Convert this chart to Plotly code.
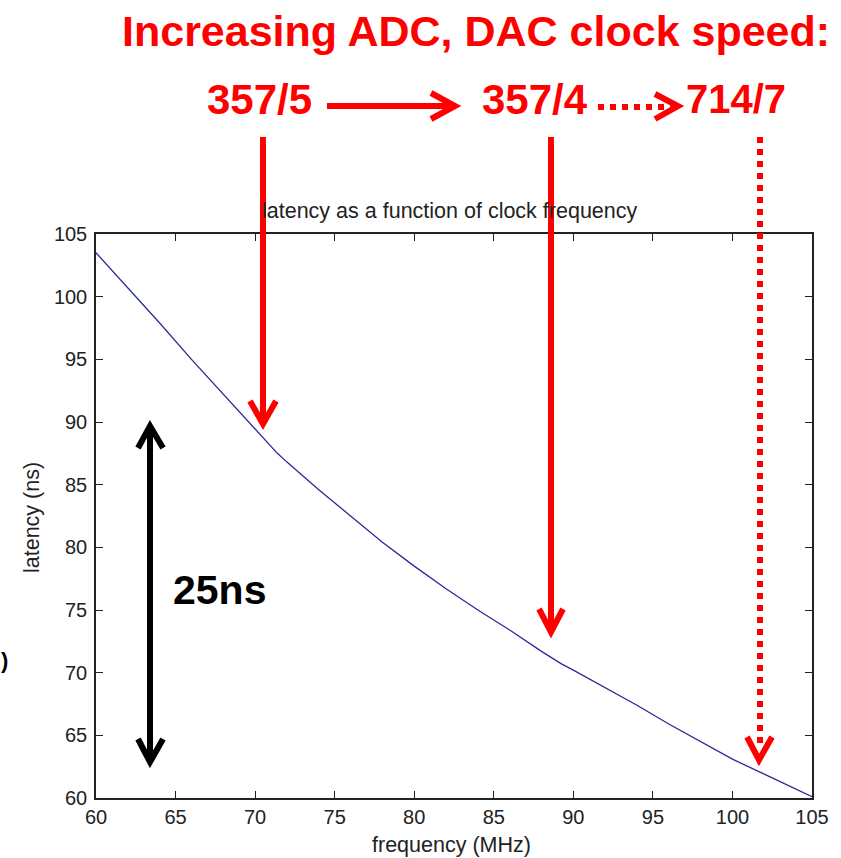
import plotly.graph_objects as go

# ---- data ----
freq_mhz = [60, 62, 64, 66, 68, 70, 71.4, 72, 74, 76, 78, 80, 82, 84, 86, 88,
            89.25, 90, 92, 94, 96, 98, 100, 102, 104, 105]
latency_ns = [103.5, 100.7, 97.9, 95.0, 92.2, 89.4, 87.5, 86.8, 84.6, 82.5, 80.4,
              78.5, 76.7, 75.0, 73.4, 71.7, 70.7, 70.2, 68.8, 67.4, 65.9, 64.5,
              63.1, 61.9, 60.7, 60.1]
x_ticks = [60, 65, 70, 75, 80, 85, 90, 95, 100, 105]
y_ticks = [60, 65, 70, 75, 80, 85, 90, 95, 100, 105]
clock_labels = ["357/5", "357/4", "714/7"]
headline = "Increasing ADC, DAC clock speed:"
span_label = "25ns"

# ---- page geometry (pixels) ----
W, H = 841, 858
L, R, T, B = 96, 812, 234, 798


def px(x):
    return (x - L) / (R - L)


def py(y):
    return (B - y) / (B - T)


FONT = "Liberation Sans, Arial, sans-serif"
RED = "#ff0000"

fig = go.Figure()
fig.add_trace(go.Scatter(x=freq_mhz, y=latency_ns, mode="lines",
                         line=dict(color="#2a2a98", width=1.3),
                         showlegend=False, hoverinfo="skip"))

shapes = []


def vline(x, y0, y1, color, width=6, dash="solid"):
    shapes.append(dict(type="line", xref="paper", yref="paper",
                       x0=px(x), x1=px(x), y0=py(y0), y1=py(y1),
                       line=dict(color=color, width=width, dash=dash)))


def hline(x0, x1, y, color, width=6, dash="solid"):
    shapes.append(dict(type="line", xref="paper", yref="paper",
                       x0=px(x0), x1=px(x1), y0=py(y), y1=py(y),
                       line=dict(color=color, width=width, dash=dash)))


def chevron(pts, color, width=6):
    p = "M " + " L ".join(f"{px(a):.5f},{py(b):.5f}" for a, b in pts)
    shapes.append(dict(type="path", xref="paper", yref="paper", path=p,
                       line=dict(color=color, width=width)))


# red vertical arrows
vline(263, 137, 421, RED)
chevron([(250, 401), (263, 424), (276, 401)], RED)
vline(551, 137, 629, RED)
chevron([(539, 609), (551, 632), (563, 609)], RED)
vline(760, 137, 745, RED, dash="dot")
chevron([(747, 737), (759, 760), (772, 737)], RED)

# black double arrow
vline(150, 429, 759, "black")
chevron([(138, 448), (150, 426), (163, 448)], "black")
chevron([(138, 739), (150, 762), (163, 739)], "black")

# top horizontal arrows
hline(327, 452, 106, RED)
chevron([(431, 93), (455, 106), (431, 119)], RED)
hline(598, 672, 107, RED, dash="dot")
chevron([(655, 94), (678, 106), (655, 119)], RED)

annotations = []


def text(t, x, y, size, color="black", bold=False, angle=0, xanchor="center"):
    annotations.append(dict(text=(f"<b>{t}</b>" if bold else t),
                            xref="paper", yref="paper", x=px(x), y=py(y),
                            xanchor=xanchor, yanchor="middle", showarrow=False,
                            textangle=angle,
                            font=dict(family=FONT, size=size, color=color)))


text(headline, 476, 31, 43, RED, bold=True)
text(clock_labels[0], 259, 99, 42, RED, bold=True)
text(clock_labels[1], 535, 99, 42, RED, bold=True)
text(clock_labels[2], 736, 99, 40, RED, bold=True)
text(span_label, 219, 590, 41, "black", bold=True)
text(")", 10, 660, 22, "black", bold=True, xanchor="right")

text("latency as a function of clock frequency", 450, 211, 21.5, "#222")
text("frequency (MHz)", 451, 845, 21.5, "#222")
text("latency (ns)", 32, 518, 21.5, "#222", angle=-90)

axis_common = dict(showline=True, linecolor="#222", linewidth=1.5, mirror="ticks",
                   ticks="inside", ticklen=7, tickwidth=1.3, tickcolor="#222",
                   showgrid=False, zeroline=False,
                   tickfont=dict(family=FONT, size=20, color="#222"))

fig.update_layout(
    width=W, height=H, autosize=False,
    margin=dict(l=L, r=W - R, t=T, b=H - B),
    paper_bgcolor="white", plot_bgcolor="white",
    xaxis=dict(range=[60, 105], tickvals=x_ticks, ticklabelstandoff=0, **axis_common),
    yaxis=dict(range=[60, 105], tickvals=y_ticks, ticklabelstandoff=3, **axis_common),
    shapes=shapes, annotations=annotations,
)

fig.write_html("out.html")
